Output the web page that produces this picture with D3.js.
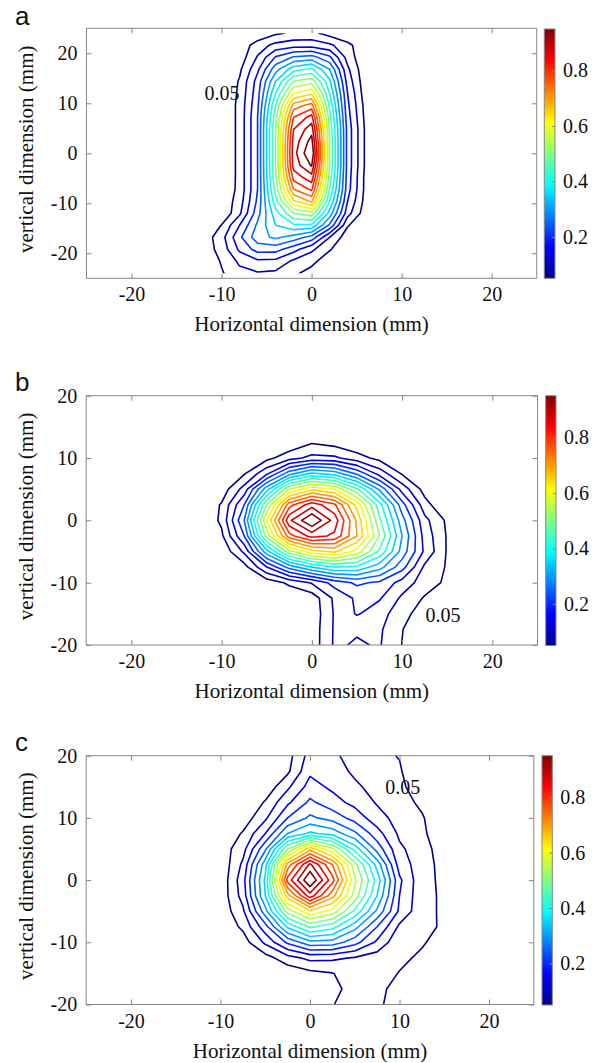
<!DOCTYPE html>
<html>
<head>
<meta charset="utf-8">
<script src="https://cdn.jsdelivr.net/npm/d3@7"></script>
<style>
  body { margin: 0; background: #fff; }
</style>
</head>
<body>
<svg id="chart" width="601" height="1063"></svg>
<script>
// contour levels, in % of the peak (0.05 .. 0.95)
const levels = [5, 10, 15, 20, 25, 30, 35, 40, 45, 50, 55, 60, 65, 70, 75, 80, 85, 90, 95];
const xTicks = [-20, -10, 0, 10, 20];
const yTicks = [-20, -10, 0, 10, 20];
const cbTicks = [0.2, 0.4, 0.6, 0.8];

// jet colormap anchors
const jetStops = [0, 0.125, 0.375, 0.625, 0.875, 1];
const jetColors = ["#00008f", "#0000ff", "#00ffff", "#ffff00", "#ff0000", "#800000"];

// panel a : measured field (%), x in mm, y in mm (top row first)
const aX = [-12, -10, -8, -6, -4, -2, 0, 2, 4, 6, 8];
const aY = [24, 21.6, 19.2, 16.8, 14.4, 12, 9.6, 7.2, 4.8, 2.4, 0, -2.4, -4.8, -7.2, -9.6, -12, -14.4, -16.8, -19.2, -21.6, -24];
const aZ = [
  [0, 0, 0, 1, 4.2, 6, 6.5, 3, 0.5, 0, 0],
  [0, 0, 1.5, 7.5, 11.5, 13, 13, 11, 6.5, 1, 0],
  [0, 0, 2, 10.5, 20.5, 25.5, 27, 21, 8, 0.5, 0],
  [0, 0, 4, 14, 28, 38, 41, 30, 11, 1, 0],
  [0, 0, 5.5, 17, 35, 50, 53, 36, 13, 1.5, 0],
  [0, 0, 6, 18, 40, 60, 64, 40, 15, 2, 0],
  [0, 0, 6.5, 19, 45, 72, 77, 44, 16, 3, 0],
  [0, 0, 6.5, 20, 48, 80, 87, 47, 17, 3.5, 0],
  [0, 0, 6.5, 20, 50, 85, 93, 49, 18, 4, 0],
  [0, 0, 6.5, 20, 50, 87, 97, 50, 18, 4, 0],
  [0, 0, 6.5, 20, 50, 88, 100, 50, 18, 4, 0],
  [0, 0, 6.5, 20, 50, 87, 95.5, 50, 18, 4, 0],
  [0, 0, 6.5, 20, 49, 82, 88, 48, 17.5, 3.5, 0],
  [0, 0.5, 6.5, 20, 47, 75, 81, 45, 17, 3.5, 0],
  [0, 1, 7.5, 21, 43, 64, 71, 40, 15, 3, 0],
  [0, 0.5, 9, 23, 38, 50, 53, 33, 12, 2, 0],
  [0, 5.2, 15, 26, 35, 39, 39, 24, 5.5, 0, 0],
  [2, 8, 19, 28, 31, 28, 23, 10, 2, 0, 0],
  [2, 7, 16, 22, 22, 17, 11, 5.5, 0.5, 0, 0],
  [0.5, 5.5, 11, 14, 13.5, 9, 6.5, 1.5, 0, 0, 0],
  [0, 4.5, 8.5, 9.5, 9, 6, 3, 0, 0, 0, 0]
];

// panel b
const bX = [-12.5, -10, -7.5, -5, -2.5, 0, 2.5, 5, 7.5, 10, 12.5, 15, 17.5];
const bY = [15, 12.5, 10, 7.5, 5, 2.5, 0, -2.5, -5, -7.5, -10, -12.5, -15, -17.5, -20, -22.5];
const bZ = [
  [0, 0, 0, 0, 0, 0, 0, 0, 0, 0, 0, 0, 0],
  [0, 0, 0, 0, 1, 4.5, 3, 1, 0, 0, 0, 0, 0],
  [0, 0, 0, 3.5, 8, 11.5, 11, 7, 3.5, 0.5, 0, 0, 0],
  [0, 0, 4.5, 14, 28, 36, 33, 24, 13, 4.5, 0.5, 0, 0],
  [0, 2, 12, 33, 55, 64, 60, 46, 29, 13, 3, 0, 0],
  [0, 5.5, 20, 50, 78, 88, 81, 63, 42, 22, 7, 0, 0],
  [0, 6, 25, 60, 89, 100, 88, 69, 46, 27, 11.5, 4, 0],
  [0, 4, 20, 52, 78, 87, 84, 70, 50, 30, 13, 4.5, 0],
  [0, 1, 11, 33, 53, 63, 66, 58, 44, 28, 14, 4.5, 0],
  [0, 0, 3, 15, 27, 35, 40, 39, 32, 22, 9, 4.5, 0],
  [0, 0, 0, 2, 6, 10.5, 17, 21, 19, 13, 7.5, 4, 0],
  [0, 0, 0, 0, 1, 2, 11, 16, 15.5, 9, 4.5, 1.5, 0],
  [0, 0, 0, 0, 0, 1.5, 10.5, 15.5, 12, 7, 2, 0, 0],
  [0, 0, 0, 0, 0, 2, 10.6, 10.5, 10.8, 5.2, 0.5, 0, 0],
  [0, 0, 0, 0, 0, 2, 10.7, 9.5, 10.4, 4.9, 0, 0, 0],
  [0, 0, 0, 0, 0, 2, 10.7, 9.5, 10.4, 4.9, 0, 0, 0]
];

// panel c
const cX = [-12.5, -10, -7.5, -5, -2.5, 0, 2.5, 5, 7.5, 10, 12.5, 15, 17.5];
const cY = [22.5, 20, 17.5, 15, 12.5, 10, 7.5, 5, 2.5, 0, -2.5, -5, -7.5, -10, -12.5, -15, -17.5, -20, -22.5];
const cZ = [
  [0, 0, 0, 0, 3, 12, 11.5, 7, 6, 4.8, 0, 0, 0],
  [0, 0, 0, 0, 3, 12, 11.5, 7, 6, 4.8, 0, 0, 0],
  [0, 0, 0, 0, 4, 14, 12.5, 9, 7, 5.5, 1, 0, 0],
  [0, 0, 0, 1.5, 9, 17, 14, 11, 8, 6, 2.5, 0, 0],
  [0, 0, 0, 5.5, 14, 21, 17, 13.5, 9.5, 7, 4, 0, 0],
  [0, 0, 2, 9, 20, 26, 23, 18, 12, 8, 5.5, 1, 0],
  [0, 0.5, 5.5, 15, 30, 36, 33, 26, 17, 9, 6, 1.5, 0],
  [0, 2.2, 8, 24, 50, 68, 56, 38, 23, 11, 7, 2.5, 0],
  [0, 1, 11, 33, 72, 91, 75, 52, 33, 12.5, 7.5, 3, 0],
  [0, 1.2, 13, 36, 82, 100, 82, 56, 38, 16, 6.5, 4, 0],
  [0, 1.5, 12, 35, 68, 88, 72, 53, 35, 15, 6.5, 4.2, 0],
  [0, 1.5, 9, 28, 52, 64, 58, 44, 29, 14, 6.5, 4.2, 0],
  [0, 1, 6, 18, 36, 46, 42, 32, 20, 9, 6, 4.5, 0],
  [0, 0, 2.5, 11, 21, 28.5, 28, 22, 14, 6, 5.5, 3, 0],
  [0, 0, 0, 3, 8, 11.5, 11, 9.6, 7.5, 6, 4.2, 1, 0],
  [0, 0, 0, 0, 1.5, 3.5, 4.8, 7.5, 7, 4.8, 1.5, 0, 0],
  [0, 0, 0, 0, 0, 1, 3.5, 7, 6.5, 3, 0, 0, 0],
  [0, 0, 0, 0, 0, 1, 4.8, 7, 6, 2.5, 0, 0, 0],
  [0, 0, 0, 0, 0, 1, 4.8, 7, 6, 2.5, 0, 0, 0]
];

// where the "0.05" labels sit (mm)
const labelPos = { a: [-11.9, 10.6], b: [12.6, -16.3], c: [8.4, 13.9] };

const SERIF = "'Liberation Serif', 'DejaVu Serif', serif";
const SANS = "'Liberation Sans', Arial, sans-serif";

const svg = d3.select("#chart");
const jet = d3.scaleLinear().domain(jetStops).range(jetColors);
const levelColor = v => jet((v - 5) / 90);

// one shared gradient for the colorbars
const grad = svg.append("defs").append("linearGradient")
  .attr("id", "jetGrad")
  .attr("x1", 0).attr("y1", 1).attr("x2", 0).attr("y2", 0);
grad.selectAll("stop")
  .data(jetStops)
  .enter()
  .append("stop")
  .attr("offset", d => d)
  .attr("stop-color", (d, i) => jetColors[i]);

const panels = [
  { key: "a", xs: aX, ys: aY, z: aZ, left: 86.5, right: 536.7, top: 28.3, bottom: 278.3, yDom: [-25, 25], cb: [544.3, 555, 29, 278.3], letterY: 25 },
  { key: "b", xs: bX, ys: bY, z: bZ, left: 86.2, right: 537.5, top: 395.7, bottom: 645, yDom: [-20, 20], cb: [545.7, 556, 395.7, 645.5], letterY: 391 },
  { key: "c", xs: cX, ys: cY, z: cZ, left: 86.2, right: 533.8, top: 755.7, bottom: 1004.5, yDom: [-20, 20], cb: [542, 552.3, 755.7, 1005], letterY: 751 }
];

const drawPanel = (p) => {
  const g = svg.append("g");
  const x = d3.scaleLinear().domain([-25, 25]).range([p.left, p.right]);
  const y = d3.scaleLinear().domain(p.yDom).range([p.bottom, p.top]);

  const nx = p.xs.length, ny = p.ys.length;
  const dx = p.xs[1] - p.xs[0], dy = p.ys[0] - p.ys[1];
  const contours = d3.contours().size([nx, ny]).thresholds(levels)(p.z.flat());

  // grid coordinates -> mm -> pixels
  const proj = d3.geoTransform({
    point: function (gx, gy) {
      this.stream.point(x(p.xs[0] + (gx - 0.5) * dx), y(p.ys[0] - (gy - 0.5) * dy));
    }
  });
  const path = d3.geoPath(proj);

  // lines stop where the data stops (or at the frame)
  const cx0 = Math.max(x(p.xs[0]), p.left), cx1 = Math.min(x(p.xs[nx - 1]), p.right);
  const cy0 = Math.max(y(p.ys[0]), p.top), cy1 = Math.min(y(p.ys[ny - 1]), p.bottom);
  g.append("clipPath").attr("id", "clip-" + p.key)
    .append("rect")
    .attr("x", cx0).attr("y", cy0)
    .attr("width", cx1 - cx0).attr("height", cy1 - cy0);

  g.append("g")
    .attr("clip-path", `url(#clip-${p.key})`)
    .selectAll("path")
    .data(contours)
    .enter()
    .append("path")
    .attr("d", path)
    .attr("fill", "none")
    .attr("stroke", d => levelColor(d.value))
    .attr("stroke-width", 1.6)
    .attr("stroke-linejoin", "round");

  // axes, ticks pointing in on all four sides
  const ax = g.append("g").attr("class", "axes");
  ax.append("g").attr("transform", `translate(0,${p.bottom})`)
    .call(d3.axisBottom(x).tickValues(xTicks).tickSizeInner(-5).tickSizeOuter(0).tickPadding(9).tickFormat(d => d));
  ax.append("g").attr("transform", `translate(0,${p.top})`)
    .call(d3.axisTop(x).tickValues(xTicks).tickSizeInner(-5).tickSizeOuter(0).tickFormat(""));
  ax.append("g").attr("transform", `translate(${p.left},0)`)
    .call(d3.axisLeft(y).tickValues(yTicks).tickSizeInner(-5).tickSizeOuter(0).tickPadding(9).tickFormat(d => d));
  ax.append("g").attr("transform", `translate(${p.right},0)`)
    .call(d3.axisRight(y).tickValues(yTicks).tickSizeInner(-5).tickSizeOuter(0).tickFormat(""));
  ax.selectAll(".domain").remove();
  ax.selectAll(".tick line").attr("stroke", "#888");
  ax.selectAll(".tick text").attr("fill", "#111")
    .style("font-family", SERIF).style("font-size", "20px");

  g.append("rect")
    .attr("x", p.left).attr("y", p.top)
    .attr("width", p.right - p.left).attr("height", p.bottom - p.top)
    .attr("fill", "none").attr("stroke", "#888").attr("stroke-width", 1);

  // axis titles
  g.append("text")
    .attr("x", (p.left + p.right) / 2).attr("y", p.bottom + 53)
    .attr("text-anchor", "middle").attr("fill", "#111")
    .style("font-family", SERIF).style("font-size", "21px")
    .text("Horizontal dimension (mm)");
  g.append("text")
    .attr("transform", `translate(33,${(p.top + p.bottom) / 2 - 4}) rotate(-90)`)
    .attr("text-anchor", "middle").attr("fill", "#111")
    .style("font-family", SERIF).style("font-size", "21px")
    .text("vertical dimension (mm)");

  // panel letter
  g.append("text")
    .attr("x", 15).attr("y", p.letterY)
    .attr("fill", "#111")
    .style("font-family", SANS).style("font-size", "26px")
    .text(p.key);

  // contour label
  const lp = labelPos[p.key];
  g.append("text")
    .attr("x", x(lp[0])).attr("y", y(lp[1]))
    .attr("fill", "#111")
    .style("font-family", SERIF).style("font-size", "20px")
    .text("0.05");

  // colorbar
  const [bx0, bx1, by0, by1] = p.cb;
  const cbScale = d3.scaleLinear().domain([0.05, 0.95]).range([by1, by0]);
  g.append("rect")
    .attr("x", bx0).attr("y", by0)
    .attr("width", bx1 - bx0).attr("height", by1 - by0)
    .attr("fill", "url(#jetGrad)")
    .attr("stroke", "#888").attr("stroke-width", 1);
  const cbAxis = g.append("g").attr("transform", `translate(${bx1},0)`)
    .call(d3.axisRight(cbScale).tickValues(cbTicks).tickSizeInner(-3).tickSizeOuter(0).tickPadding(8).tickFormat(d3.format(".1f")));
  cbAxis.select(".domain").remove();
  cbAxis.selectAll(".tick line").attr("stroke", "#888");
  cbAxis.selectAll(".tick text").attr("fill", "#111")
    .style("font-family", SERIF).style("font-size", "20px");
};

panels.forEach(drawPanel);
</script>
</body>
</html>
